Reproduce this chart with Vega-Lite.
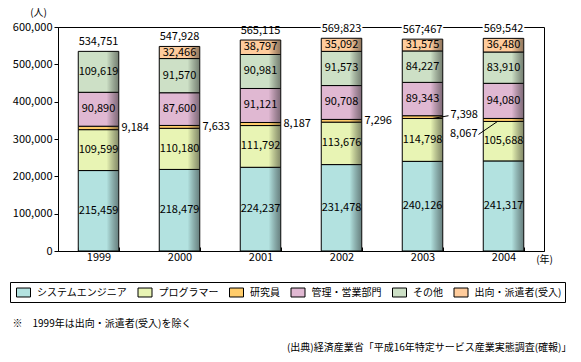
{
  "$schema": "https://vega.github.io/schema/vega-lite/v6.json",
  "width": 486,
  "height": 224,
  "autosize": {"type": "none"},
  "padding": {"left": 58, "top": 27, "right": 37, "bottom": 111},
  "background": "white",
  "config": {
    "font": "Noto Sans CJK JP",
    "view": {"stroke": "black", "strokeWidth": 1},
    "axis": {"labelColor": "black", "titleColor": "black", "domainColor": "black", "tickColor": "black", "grid": false, "titleFontWeight": "normal"},
    "text": {"color": "black", "fontSize": 11}
  },
  "data": {
    "values": [
      {"year": "1999", "cat": "システムエンジニア", "k": 1, "v": 215459},
      {"year": "1999", "cat": "プログラマー", "k": 2, "v": 109599},
      {"year": "1999", "cat": "研究員", "k": 3, "v": 9184},
      {"year": "1999", "cat": "管理・営業部門", "k": 4, "v": 90890},
      {"year": "1999", "cat": "その他", "k": 5, "v": 109619},
      {"year": "2000", "cat": "システムエンジニア", "k": 1, "v": 218479},
      {"year": "2000", "cat": "プログラマー", "k": 2, "v": 110180},
      {"year": "2000", "cat": "研究員", "k": 3, "v": 7633},
      {"year": "2000", "cat": "管理・営業部門", "k": 4, "v": 87600},
      {"year": "2000", "cat": "その他", "k": 5, "v": 91570},
      {"year": "2000", "cat": "出向・派遣者(受入)", "k": 6, "v": 32466},
      {"year": "2001", "cat": "システムエンジニア", "k": 1, "v": 224237},
      {"year": "2001", "cat": "プログラマー", "k": 2, "v": 111792},
      {"year": "2001", "cat": "研究員", "k": 3, "v": 8187},
      {"year": "2001", "cat": "管理・営業部門", "k": 4, "v": 91121},
      {"year": "2001", "cat": "その他", "k": 5, "v": 90981},
      {"year": "2001", "cat": "出向・派遣者(受入)", "k": 6, "v": 38797},
      {"year": "2002", "cat": "システムエンジニア", "k": 1, "v": 231478},
      {"year": "2002", "cat": "プログラマー", "k": 2, "v": 113676},
      {"year": "2002", "cat": "研究員", "k": 3, "v": 7296},
      {"year": "2002", "cat": "管理・営業部門", "k": 4, "v": 90708},
      {"year": "2002", "cat": "その他", "k": 5, "v": 91573},
      {"year": "2002", "cat": "出向・派遣者(受入)", "k": 6, "v": 35092},
      {"year": "2003", "cat": "システムエンジニア", "k": 1, "v": 240126},
      {"year": "2003", "cat": "プログラマー", "k": 2, "v": 114798},
      {"year": "2003", "cat": "研究員", "k": 3, "v": 7398},
      {"year": "2003", "cat": "管理・営業部門", "k": 4, "v": 89343},
      {"year": "2003", "cat": "その他", "k": 5, "v": 84227},
      {"year": "2003", "cat": "出向・派遣者(受入)", "k": 6, "v": 31575},
      {"year": "2004", "cat": "システムエンジニア", "k": 1, "v": 241317},
      {"year": "2004", "cat": "プログラマー", "k": 2, "v": 105688},
      {"year": "2004", "cat": "研究員", "k": 3, "v": 8067},
      {"year": "2004", "cat": "管理・営業部門", "k": 4, "v": 94080},
      {"year": "2004", "cat": "その他", "k": 5, "v": 83910},
      {"year": "2004", "cat": "出向・派遣者(受入)", "k": 6, "v": 36480}
    ]
  },
  "layer": [
    {
      "mark": {"type": "bar", "stroke": "black", "strokeWidth": 1},
      "encoding": {
        "x": {"field": "year", "type": "ordinal", "scale": {"paddingInner": 0.5, "paddingOuter": 0.25},
          "axis": {"orient": "bottom", "title": "(年)", "labelAngle": 0, "tickBand": "extent", "tickSize": -4, "labelPadding": 4, "labelFontSize": 11,
            "titleX": 486, "titleY": 8, "titleAlign": "center", "titleBaseline": "middle", "titleFontSize": 10, "titleAnchor": null}},
        "y": {"field": "v", "type": "quantitative", "stack": "zero", "scale": {"domain": [0, 600000], "nice": false},
          "axis": {"orient": "left", "values": [0, 100000, 200000, 300000, 400000, 500000, 600000], "format": ",d", "tickSize": 4, "labelPadding": 2, "labelFontSize": 11,
            "title": "(人)", "titleAngle": 0, "titleX": -20, "titleY": -15, "titleAlign": "center", "titleBaseline": "middle", "titleFontSize": 10, "titleAnchor": null}},
        "color": {"field": "cat", "type": "nominal",
          "scale": {"domain": ["システムエンジニア", "プログラマー", "研究員", "管理・営業部門", "その他", "出向・派遣者(受入)"],
            "range": ["#b3e2e0", "#e8f4b4", "#ffcc6a", "#e0b8d2", "#cde0c6", "#ffcc9c"]},
          "legend": {"orient": "none", "legendX": -48, "legendY": 255, "direction": "horizontal", "columns": 6, "title": null,
            "strokeColor": "black", "fillColor": "white", "padding": 3, "symbolOffset": 3,
            "symbolType": "M-1,-0.64H1V0.64H-1Z", "symbolSize": 196, "symbolStrokeColor": "black", "symbolStrokeWidth": 1, "symbolOpacity": 1,
            "labelFontSize": 10, "labelColor": "black", "labelOffset": 6, "columnPadding": 7.5}},
        "order": {"field": "k", "type": "quantitative", "sort": "ascending"}
      }
    },
    {
      "mark": {"type": "bar", "fill": {"gradient": "linear", "x1": 0, "x2": 1, "y1": 0, "y2": 0,
        "stops": [{"offset": 0, "color": "rgba(0,0,0,0)"}, {"offset": 0.7, "color": "rgba(0,0,0,0)"}, {"offset": 1, "color": "rgba(30,30,30,0.5)"}]}},
      "encoding": {
        "x": {"field": "year", "type": "ordinal", "axis": null},
        "y": {"field": "v", "type": "quantitative", "stack": "zero", "axis": null},
        "detail": {"field": "cat"},
        "order": {"field": "k", "type": "quantitative", "sort": "ascending"}
      }
    },
    {
      "mark": {"type": "text", "baseline": "middle"},
      "encoding": {
        "x": {"field": "year", "type": "ordinal", "axis": null},
        "y": {"field": "v", "type": "quantitative", "stack": "zero", "bandPosition": 0.5, "axis": null},
        "detail": {"field": "cat"},
        "order": {"field": "k", "type": "quantitative", "sort": "ascending"},
        "text": {"field": "v", "type": "quantitative", "format": ",", "condition": {"test": "datum.k === 3", "value": ""}}
      }
    },
    {
      "mark": {"type": "text", "baseline": "middle", "align": "left", "dx": 23},
      "encoding": {
        "x": {"field": "year", "type": "ordinal", "axis": null},
        "y": {"field": "v", "type": "quantitative", "stack": "zero", "bandPosition": 0.5, "axis": null},
        "detail": {"field": "cat"},
        "order": {"field": "k", "type": "quantitative", "sort": "ascending"},
        "text": {"field": "v", "type": "quantitative", "format": ",", "condition": {"test": "datum.k !== 3 || +datum.year >= 2003", "value": ""}}
      }
    },
    {
      "mark": {"type": "text", "baseline": "middle", "align": "left", "dx": 28, "dy": -2},
      "encoding": {
        "x": {"field": "year", "type": "ordinal", "axis": null},
        "y": {"field": "v", "type": "quantitative", "stack": "zero", "bandPosition": 0.5, "axis": null},
        "detail": {"field": "cat"},
        "order": {"field": "k", "type": "quantitative", "sort": "ascending"},
        "text": {"field": "v", "type": "quantitative", "format": ",", "condition": {"test": "datum.k !== 3 || datum.year !== '2003'", "value": ""}}
      }
    },
    {
      "mark": {"type": "text", "baseline": "middle", "align": "right", "dx": -26, "dy": 14},
      "encoding": {
        "x": {"field": "year", "type": "ordinal", "axis": null},
        "y": {"field": "v", "type": "quantitative", "stack": "zero", "bandPosition": 0.5, "axis": null},
        "detail": {"field": "cat"},
        "order": {"field": "k", "type": "quantitative", "sort": "ascending"},
        "text": {"field": "v", "type": "quantitative", "format": ",", "condition": {"test": "datum.k !== 3 || datum.year !== '2004'", "value": ""}}
      }
    },
    {
      "transform": [
        {"stack": "v", "groupby": ["year"], "sort": [{"field": "k", "order": "ascending"}], "as": ["v0", "v1"]},
        {"filter": "datum.k === 3 && datum.year === '2003'"}
      ],
      "mark": {"type": "rule", "color": "black", "strokeWidth": 1, "xOffset": 10, "x2Offset": 26},
      "encoding": {
        "x": {"field": "year", "type": "ordinal", "axis": null},
        "x2": {"field": "year"},
        "y": {"field": "v0", "type": "quantitative", "axis": null},
        "y2": {"field": "v1"}
      }
    },
    {
      "transform": [
        {"stack": "v", "groupby": ["year"], "sort": [{"field": "k", "order": "ascending"}], "as": ["v0", "v1"]},
        {"filter": "datum.k === 3 && datum.year === '2004'"}
      ],
      "mark": {"type": "rule", "color": "black", "strokeWidth": 1, "xOffset": -6, "x2Offset": -25, "y2Offset": 13},
      "encoding": {
        "x": {"field": "year", "type": "ordinal", "axis": null},
        "x2": {"field": "year"},
        "y": {"field": "v0", "type": "quantitative", "axis": null},
        "y2": {"field": "v0"}
      }
    },
    {
      "transform": [
        {"aggregate": [{"op": "sum", "field": "v", "as": "total"}], "groupby": ["year"]},
        {"filter": "+datum.year >= 2002"}
      ],
      "mark": {"type": "text", "baseline": "middle", "dy": -9, "fill": "white", "stroke": "white", "strokeWidth": 4},
      "encoding": {
        "x": {"field": "year", "type": "ordinal", "axis": null},
        "y": {"field": "total", "type": "quantitative", "axis": null},
        "text": {"field": "total", "type": "quantitative", "format": ","}
      }
    },
    {
      "transform": [
        {"aggregate": [{"op": "sum", "field": "v", "as": "total"}], "groupby": ["year"]}
      ],
      "mark": {"type": "text", "baseline": "middle", "dy": -9},
      "encoding": {
        "x": {"field": "year", "type": "ordinal",
          "axis": {"orient": "top", "labels": false, "ticks": false, "domain": false, "title": "(出典)経済産業省「平成16年特定サービス産業実態調査(確報)」",
            "titleX": 513, "titleY": 320, "titleAlign": "right", "titleBaseline": "middle", "titleFontSize": 10, "titleAnchor": null}},
        "y": {"field": "total", "type": "quantitative",
          "axis": {"orient": "right", "labels": false, "ticks": false, "domain": false, "title": "※　1999年は出向・派遣者(受入)を除く",
            "titleAngle": 0, "titleX": -532, "titleY": 296, "titleAlign": "left", "titleBaseline": "middle", "titleFontSize": 10, "titleAnchor": null}},
        "text": {"field": "total", "type": "quantitative", "format": ","}
      }
    }
  ],
  "resolve": {"axis": {"x": "independent", "y": "independent"}}
}
